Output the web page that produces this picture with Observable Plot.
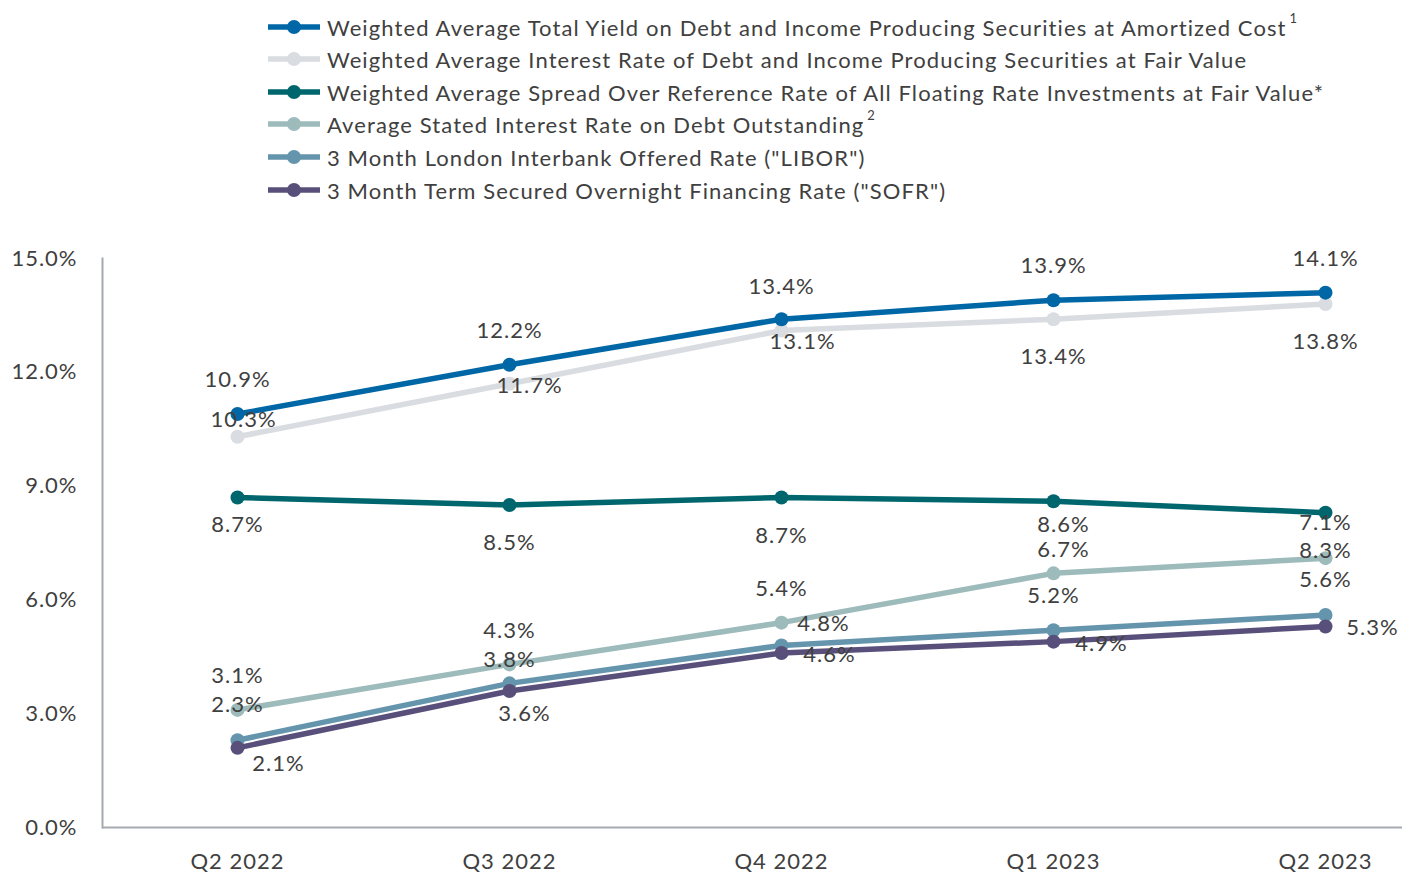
<!DOCTYPE html>
<html><head><meta charset="utf-8">
<script src="https://cdn.jsdelivr.net/npm/d3@7"></script>
<script src="https://cdn.jsdelivr.net/npm/@observablehq/plot@0.6"></script>
<style>
body{margin:0;background:#fff;font-family:Lato,"Open Sans",sans-serif;color:#404040;}
#legend{position:relative;height:205px;width:1402px;}
.item{position:absolute;left:266px;height:32px;display:flex;align-items:center;font-size:22px;letter-spacing:1.1px;white-space:nowrap;color:#404040;font-weight:400;}
.item svg{margin-right:5px;flex:none}
.sup{font-size:13px;position:relative;top:-9px;margin-left:3px;}
#chart svg{display:block}
</style></head><body>
<div id="legend"></div><div id="chart"></div>
<script>
// ---- data ----
const quarters = ["Q2 2022", "Q3 2022", "Q4 2022", "Q1 2023", "Q2 2023"];
const seriesNames = [
  "Weighted Average Total Yield on Debt and Income Producing Securities at Amortized Cost",
  "Weighted Average Interest Rate of Debt and Income Producing Securities at Fair Value",
  "Weighted Average Spread Over Reference Rate of All Floating Rate Investments at Fair Value*",
  "Average Stated Interest Rate on Debt Outstanding",
  "3 Month London Interbank Offered Rate (\"LIBOR\")",
  "3 Month Term Secured Overnight Financing Rate (\"SOFR\")"
];
const footnotes = ["1", "", "", "2", "", ""];
const totalYield     = [10.9, 12.2, 13.4, 13.9, 14.1];
const interestRateFV = [10.3, 11.7, 13.1, 13.4, 13.8];
const spreadOverRef  = [8.7, 8.5, 8.7, 8.6, 8.3];
const statedRateDebt = [3.1, 4.3, 5.4, 6.7, 7.1];
const libor          = [2.3, 3.8, 4.8, 5.2, 5.6];
const sofr           = [2.1, 3.6, 4.6, 4.9, 5.3];
const yTicks = [0, 3, 6, 9, 12, 15];

// ---- styling / layout ----
const colors = ["#0067a6", "#d9dce1", "#00666e", "#9dbbbb", "#6495ad", "#58507a"];
const valuesBySeries = [totalYield, interestRateFV, spreadOverRef, statedRateDebt, libor, sofr];
// label offsets [dx, dy] per series per quarter (placement as in the original)
const labelOffsets = [
  [[0,-34],[0,-34],[0,-32],[0,-34],[0,-34]],
  [[6,-17],[20,2],[21,11],[0,38],[0,38]],
  [[0,27],[0,38],[0,38],[10,24],[0,38]],
  [[0,-34],[0,-33],[0,-34],[10,-23],[0,-35]],
  [[0,-35],[0,-23],[42,-21],[0,-34],[0,-35]],
  [[41,16],[15,23],[48,2],[48,2],[47,1]]
];
const drawOrder = [1, 0, 2, 3, 4, 5];
const axisColor = "#a5a9b0";
const textColor = "#404040";

// ---- legend ----
const legend = document.getElementById("legend");
const rowCenters = [27, 59, 92, 124, 157, 190];
seriesNames.forEach((name, i) => {
  const div = document.createElement("div");
  div.className = "item";
  div.style.top = (rowCenters[i] - 16) + "px";
  div.innerHTML = `<svg width="56" height="18"><line x1="2" x2="54" y1="9" y2="9" stroke="${colors[i]}" stroke-width="5.5"/><circle cx="28" cy="9" r="7" fill="${colors[i]}"/></svg><span>${name.replace(/"/g,"&quot;")}</span>` + (footnotes[i] ? `<span class="sup">${footnotes[i]}</span>` : "");
  legend.appendChild(div);
});

// ---- table ----
const rows = [];
valuesBySeries.forEach((vals, s) => vals.forEach((v, q) => rows.push({series: s, quarter: quarters[q], q, value: v})));

const marks = [
  Plot.frame({anchor: "left", stroke: axisColor, strokeWidth: 2}),
  Plot.ruleY([0], {stroke: axisColor, strokeWidth: 2}),
  Plot.axisY({ticks: yTicks, tickSize: 0, tickPadding: 25, tickFormat: d => d.toFixed(1) + "%", fontSize: 22, fill: textColor}),
  Plot.axisX({tickSize: 0, tickPadding: 26, fontSize: 22, fill: textColor})
];
for (const s of drawOrder) {
  const data = rows.filter(r => r.series === s);
  marks.push(Plot.line(data, {x: "quarter", y: "value", stroke: colors[s], strokeWidth: 5.5}));
  marks.push(Plot.dot(data, {x: "quarter", y: "value", fill: colors[s], r: 7}));
}
for (const r of rows) {
  const [dx, dy] = labelOffsets[r.series][r.q];
  marks.push(Plot.text([r], {x: "quarter", y: "value", text: d => d.value.toFixed(1) + "%", dx, dy, fontSize: 22, fill: textColor}));
}

const chart = Plot.plot({
  width: 1402,
  height: 668,
  marginTop: 53,
  marginBottom: 46,
  marginLeft: 102,
  marginRight: 0,
  style: {fontFamily: "Lato, 'Open Sans', sans-serif", background: "#fff", color: textColor, letterSpacing: "1px", fontWeight: 400},
  x: {type: "point", domain: quarters, range: [237, 1325], padding: 0, label: null},
  y: {domain: [0, 15], label: null},
  marks
});
document.getElementById("chart").appendChild(chart);
</script>
</body></html>
